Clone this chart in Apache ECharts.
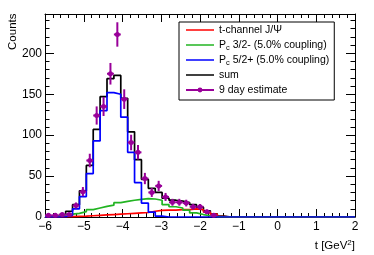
<!DOCTYPE html>
<html><head><meta charset="utf-8">
<script src="https://cdn.jsdelivr.net/npm/echarts@6/dist/echarts.min.js"></script>
<style>html,body{margin:0;padding:0;background:#fff}#c{width:374px;height:255px}</style>
</head><body><div id="c"></div>
<script>
// ---- axis definition ----
const xMin = -6, xMax = 2, nBins = 45;
const xTickStep = 1;
const yMin = 0, yMax = 248, yTickStep = 50;

// ---- series (bin contents, bins of equal width from xMin to xMax) ----
const seriesNames = ['t-channel J/\u03A8', 'Pc 3/2- (5.0% coupling)', 'Pc 5/2+ (5.0% coupling)', 'sum', '9 day estimate'];

const tChannel = [0, 0, 0.3, 0.5, 0.8, 1, 1.5, 2, 2.5, 3, 3.5, 4, 4.5, 5, 5.5, 7, 8, 8.5, 8.5, 9, 9, 10, 9, 6, 3.5, 0.5,
  0, 0, 0, 0, 0, 0, 0, 0, 0, 0, 0, 0, 0, 0, 0, 0, 0, 0, 0];
const pc32 = [1, 1.5, 2.5, 3.5, 4.5, 6.5, 9, 11, 13, 14.5, 17.5, 19, 20.5, 21.5, 22.5, 22, 20.5, 15, 12.5, 11, 8.5, 5, 3, 1.5, 0.5, 0,
  0, 0, 0, 0, 0, 0, 0, 0, 0, 0, 0, 0, 0, 0, 0, 0, 0, 0, 0];
const pc52 = [0, 0, 0.3, 2, 10, 25, 53, 93, 130, 152, 150, 122, 79, 42, 17, 6, 1, 0, 0, 0, 0, 0, 0, 0, 0, 0,
  0, 0, 0, 0, 0, 0, 0, 0, 0, 0, 0, 0, 0, 0, 0, 0, 0, 0, 0];
const sumCounts = [1, 1.5, 3, 7, 15, 32, 63, 107, 147, 169, 173, 145, 104, 70, 46, 35, 30, 23, 20.5, 19.5, 17.5, 15, 12, 7.5, 4, 1,
  0, 0, 0, 0, 0, 0, 0, 0, 0, 0, 0, 0, 0, 0, 0, 0, 0, 0, 0];
const estimate = [2, 2, 3, 3, 14, 31, 69, 124, 135, 175, 223, 144, 91, 79, 47, 30, 38, 24.5, 18, 18, 17, 12.5, 12.5, 6.5, 2];
const estimateErr = [1.4, 1.4, 1.7, 1.7, 3.7, 5.6, 8.3, 11.1, 11.6, 13.2, 14.9, 12, 9.5, 8.9, 6.9, 5.5, 6.2, 4.9, 4.2, 4.2, 4.1, 3.5, 3.5, 2.5, 1.4];

// ---- build ----
const binWidth = (xMax - xMin) / nBins;
function stepData(vals) {
  const d = [];
  for (let k = 0; k < vals.length; k++) d.push([xMin + k * binWidth, vals[k]]);
  d.push([xMin + vals.length * binWidth, vals[vals.length - 1]]);
  return d;
}
const pointData = estimate.map((v, k) => [xMin + (k + 0.5) * binWidth, v, estimateErr[k]]);

const FONT = 'Liberation Sans';
const PURPLE = '#990099';
const colors = {t: '#ff0000', g: '#22b422', b: '#0000ff', s: '#000000'};

function xAxisDef(pos, labels) {
  return {
    type: 'value', min: xMin, max: xMax, interval: xTickStep, position: pos,
    axisLine: {show: true, onZero: false, lineStyle: {color: '#000', width: 1}},
    axisTick: {show: true, inside: true, length: 8, lineStyle: {color: '#000', width: 1}},
    minorTick: {show: true, splitNumber: 5, length: 4, lineStyle: {color: '#000', width: 1}},
    splitLine: {show: false}, minorSplitLine: {show: false},
    axisLabel: {show: labels, color: '#000', fontFamily: FONT, fontSize: 12, margin: 4,
      formatter: v => String(v).replace('-', '\u2212')}
  };
}
function yAxisDef(pos, labels) {
  return {
    type: 'value', min: yMin, max: yMax, interval: yTickStep, position: pos,
    axisLine: {show: true, onZero: false, lineStyle: {color: '#000', width: 1}},
    axisTick: {show: true, inside: true, length: 9, lineStyle: {color: '#000', width: 1}},
    minorTick: {show: true, splitNumber: 5, length: 4.5, lineStyle: {color: '#000', width: 1}},
    splitLine: {show: false}, minorSplitLine: {show: false},
    axisLabel: {show: labels, color: '#000', fontFamily: FONT, fontSize: 12, margin: 3, showMaxLabel: false}
  };
}

function hist(name, vals, color, z) {
  return {name: name, type: 'line', step: 'end', data: stepData(vals), symbol: 'none', showSymbol: false,
    lineStyle: {color: color, width: 1.7}, itemStyle: {color: color}, z: z, silent: true, clip: true};
}

const chart = echarts.init(document.getElementById('c'), null, {renderer: 'canvas'});
chart.setOption({
  animation: false,
  grid: {left: 45, right: 19, top: 14, bottom: 38},
  xAxis: [xAxisDef('bottom', true), xAxisDef('top', false)],
  yAxis: [yAxisDef('left', true), yAxisDef('right', false)],
  legend: {
    orient: 'vertical', left: 179, top: 22,
    padding: [1, 5, 3, 6], itemWidth: 28, itemHeight: 6, itemGap: 1, itemTextGap: 7,
    backgroundColor: '#fff', borderColor: '#000', borderWidth: 1,
    textStyle: {fontFamily: FONT, fontSize: 10.5, color: '#000', lineHeight: 14,
      rich: {sub: {fontFamily: FONT, fontSize: 7.5, color: '#000', padding: [5, 0, 0, 0], lineHeight: 14}}},
    formatter: name => name.replace(/^Pc/, 'P{sub|c}'),
    data: [
      {name: seriesNames[0], itemStyle: {opacity: 0}, lineStyle: {width: 1.5}},
      {name: seriesNames[1], itemStyle: {opacity: 0}, lineStyle: {width: 1.5}},
      {name: seriesNames[2], itemStyle: {opacity: 0}, lineStyle: {width: 1.5}},
      {name: seriesNames[3], itemStyle: {opacity: 0}, lineStyle: {width: 1.5}},
      {name: seriesNames[4], lineStyle: {opacity: 1, width: 2, color: PURPLE}}
    ],
    selectedMode: false
  },
  graphic: [
    {type: 'text', x: 12.5, y: 13.5, rotation: Math.PI / 2,
      style: {text: 'Counts', align: 'right', verticalAlign: 'middle', fill: '#000',
        font: '11.5px "Liberation Sans"'}},
    {type: 'text', x: 355, y: 246,
      style: {text: 't [GeV{sup|2}]', align: 'right', verticalAlign: 'middle', fill: '#000',
        font: '11.5px "Liberation Sans"',
        rich: {sup: {fontSize: 8, fontFamily: FONT, fill: '#000', padding: [0, 0, 6, 0]}}}}
  ],
  series: [
    hist(seriesNames[3], sumCounts, colors.s, 2),
    hist(seriesNames[0], tChannel, colors.t, 3),
    hist(seriesNames[1], pc32, colors.g, 3),
    hist(seriesNames[2], pc52, colors.b, 4),
    {type: 'custom', silent: true, z: 5, data: pointData, encode: {x: 0, y: 1},
      renderItem: (params, api) => {
        const x = api.value(0), y = api.value(1), e = api.value(2);
        const c = api.coord([x, y]);
        const t = api.coord([x, y + e]);
        const b = api.coord([x, Math.max(0, y - e)]);
        const l = api.coord([x - binWidth / 2, y]);
        const r = api.coord([x + binWidth / 2, y]);
        return {type: 'group', children: [
          {type: 'line', shape: {x1: c[0], y1: t[1], x2: c[0], y2: b[1]}, style: {stroke: PURPLE, lineWidth: 2}},
          {type: 'line', shape: {x1: l[0], y1: c[1], x2: r[0], y2: c[1]}, style: {stroke: PURPLE, lineWidth: 2}}
        ]};
      }},
    {name: seriesNames[4], type: 'line', data: pointData.map(p => [p[0], p[1]]),
      symbol: 'circle', symbolSize: 5, showSymbol: true, itemStyle: {color: PURPLE},
      lineStyle: {color: PURPLE, width: 0, opacity: 0}, z: 6, silent: true}
  ]
});
</script>
</body></html>
